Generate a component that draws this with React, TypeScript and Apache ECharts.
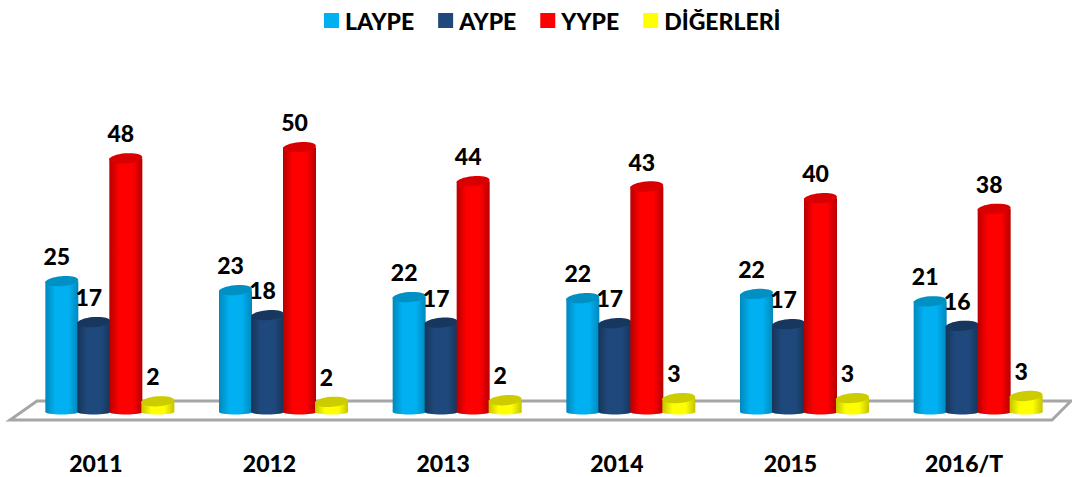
import React, { useEffect, useRef } from "react";
import * as echarts from "echarts";

const categories = ["2011", "2012", "2013", "2014", "2015", "2016/T"];
const laype = [24.8, 23.1, 21.8, 21.6, 22.4, 21.0];
const aype = [17.1, 18.4, 17.0, 16.9, 16.7, 16.4];
const yype = [47.9, 50.0, 43.6, 42.6, 40.4, 38.4];
const digerleri = [2.2, 2.1, 2.4, 2.8, 2.8, 3.2];

const FONT = "Lato, Carlito, Calibri, sans-serif";

const palette = [
  { name: "LAYPE", values: laype, color: "#00B0F0", edge: "#0088BC", top: "#0090C4" },
  { name: "AYPE", values: aype, color: "#1F497D", edge: "#163558", top: "#17375E" },
  { name: "YYPE", values: yype, color: "#FF0000", edge: "#B80000", top: "#D80000" },
  { name: "DİĞERLERİ", values: digerleri, color: "#FFFF00", edge: "#C4C400", top: "#CCCC00" },
];

function makeSeries(s: (typeof palette)[number], index: number) {
  const barWidth = 33;
  const ry = 5;
  return {
    type: "custom",
    name: s.name,
    coordinateSystem: "cartesian2d",
    clip: false,
    z: 2 + index,
    itemStyle: { color: s.color },
    encode: { x: 0, y: 1 },
    data: s.values.map((v, i) => [i, v]),
    renderItem: (_p: any, api: any) => {
      const base = api.coord([api.value(0), 0]);
      const topPt = api.coord([api.value(0), api.value(1)]);
      const cx = base[0] + 14 + (index - 1.5) * 32;
      const fill = new echarts.graphic.LinearGradient(0, 0, 1, 0, [
        { offset: 0, color: s.edge },
        { offset: 0.3, color: s.color },
        { offset: 0.7, color: s.color },
        { offset: 1, color: s.edge },
      ]);
      return {
        type: "group",
        children: [
          {
            type: "ellipse",
            x: cx,
            y: base[1] - 1,
            shape: { cx: 0, cy: 0, rx: barWidth / 2, ry: 2.5 },
            style: { fill },
          },
          {
            type: "rect",
            shape: { x: cx - barWidth / 2, y: topPt[1], width: barWidth, height: base[1] - 1 - topPt[1] },
            style: { fill },
          },
          {
            type: "ellipse",
            x: cx,
            y: topPt[1],
            rotation: 0.08,
            shape: { cx: 0, cy: 0, rx: barWidth / 2, ry },
            style: { fill: s.top },
          },
          {
            type: "text",
            z2: 100,
            x: cx - 5,
            y: topPt[1] - 25,
            style: {
              text: String(Math.round(api.value(1))),
              font: `900 23px ${FONT}`,
              fill: "#000000",
              align: "center",
              verticalAlign: "middle",
            },
          },
        ],
      };
    },
  };
}

export default function App() {
  const ref = useRef<HTMLDivElement>(null);
  useEffect(() => {
    const chart = echarts.init(ref.current!, undefined, { renderer: "svg" });
    chart.setOption({
      animation: false,
      backgroundColor: "#ffffff",
      textStyle: { fontFamily: FONT },
      legend: {
        left: 324,
        top: 9,
        padding: 0,
        itemWidth: 15,
        itemHeight: 15,
        itemGap: 24,
        icon: "rect",
        textStyle: { fontFamily: FONT, fontWeight: 900, fontSize: 23, color: "#000000", padding: [0, 0, 0, 1] },
        data: palette.map((p) => ({ name: p.name, icon: "rect", itemStyle: { color: p.color } })),
      },
      grid: { left: 9, width: 1042, top: 94, height: 319 },
      xAxis: {
        type: "category",
        data: categories,
        axisLine: { show: false },
        axisTick: { show: false },
        axisLabel: {
          margin: 38,
          fontFamily: FONT,
          fontWeight: 900,
          fontSize: 23,
          color: "#000000",
        },
      },
      yAxis: { type: "value", min: 0, max: 60, show: false },
      graphic: [
        {
          type: "polygon",
          z: 0,
          shape: { points: [[10, 420], [1052, 420], [1071, 401], [37, 401]] },
          style: { fill: "#ffffff", stroke: "#A6A6A6", lineWidth: 3 },
        },
      ],
      series: palette.map(makeSeries),
    });
    return () => chart.dispose();
  }, []);
  return (
    <div
      ref={ref}
      style={{ position: "fixed", left: 0, top: 0, width: 1072, height: 477 }}
    />
  );
}
